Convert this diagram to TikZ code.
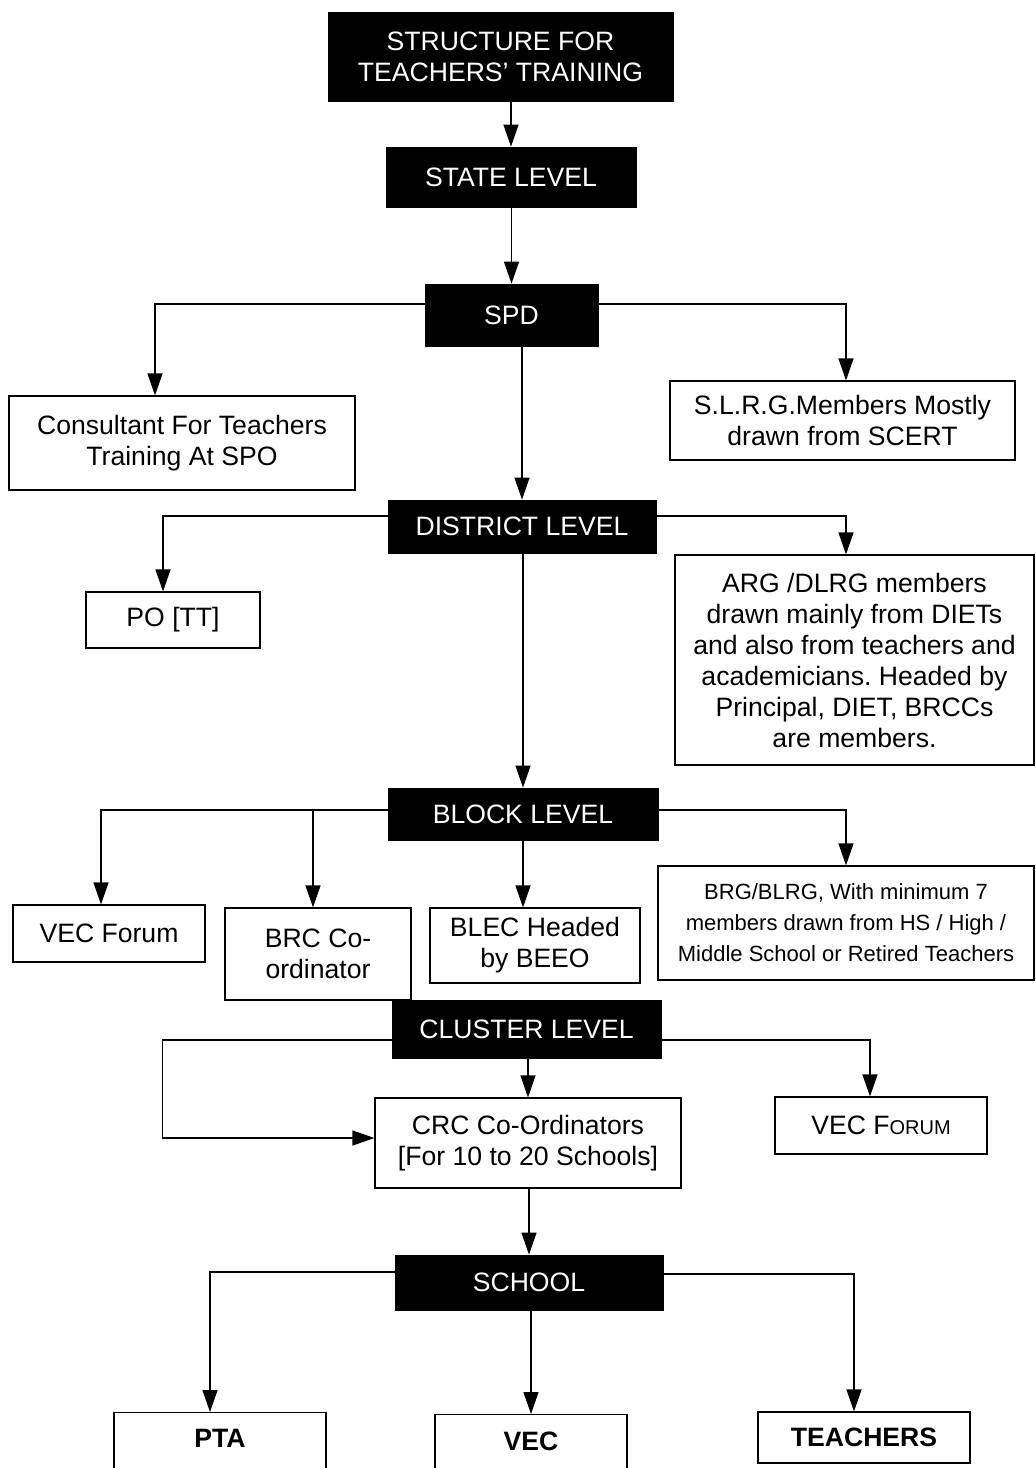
\documentclass[tikz,border=0pt]{standalone}
\usepackage{fontspec}
\setmainfont{Liberation Sans}
\usetikzlibrary{arrows.meta}
\frenchspacing

\tikzset{
	darkbox/.style={draw=black, fill=black, text=white, align=center, inner sep=0pt,
		font=\fontsize{13.3}{15.5}\selectfont},
	whitebox/.style={draw=black, line width=0.6pt, fill=white, align=center, inner sep=0pt,
		font=\fontsize{13.3}{15.5}\selectfont},
	arr/.style={-{Triangle[length=11pt,width=7.5pt]}, line width=0.6pt},
}

\begin{document}
\begin{tikzpicture}[x=0.5pt, y=-0.5pt] % one unit = one pixel of the page
		\useasboundingbox (0,0) rectangle (1035,1468);

		% Draw the level boxes (black)
		\node[darkbox, minimum width=172.5pt, minimum height=44.5pt] (title) at (500.5,56.5) {STRUCTURE FOR\\TEACHERS' TRAINING};
		\node[darkbox, minimum width=125pt, minimum height=30pt] (state) at (511,177) {STATE LEVEL};
		\node[darkbox, minimum width=86.5pt, minimum height=31pt] (spd) at (511.5,315) {SPD};
		\node[darkbox, minimum width=134pt, minimum height=26.5pt] (dist) at (522,526.5) {DISTRICT LEVEL};
		\node[darkbox, minimum width=135pt, minimum height=26pt] (block) at (523,814) {BLOCK LEVEL};

		% Draw the state and district boxes
		\node[whitebox, minimum width=173pt, minimum height=47pt] (cons) at (182,443) {Consultant For Teachers\\Training At SPO};
		\node[whitebox, minimum width=172.5pt, minimum height=39.5pt] (slrg) at (842.5,420.5) {S.L.R.G.Members Mostly\\drawn from SCERT};
		\node[whitebox, minimum width=87pt, minimum height=28pt] (po) at (173,620) {PO [TT]};
		\node[whitebox, minimum width=179.5pt, minimum height=105pt] (arg) at (854.5,660) {ARG /DLRG members\\drawn mainly from DIETs\\and also from teachers and\\academicians. Headed by\\Principal, DIET, BRCCs\\are members.};

		% Draw the block boxes
		\node[whitebox, minimum width=96pt, minimum height=28.5pt] (vecf) at (109,933.5) {VEC Forum};
		\node[whitebox, minimum width=93pt, minimum height=46pt] (brc) at (318,954) {BRC Co-\\ordinator};
		\node[whitebox, minimum width=105pt, minimum height=37.5pt] (blec) at (535,945.5) {BLEC Headed\\by BEEO};
		\node[whitebox, minimum width=188pt, minimum height=57pt, font=\fontsize{11}{15.5}\selectfont] (brg) at (846,923) {BRG/BLRG, With minimum 7\\members drawn from HS / High /\\Middle School or Retired Teachers};

		% Draw the cluster boxes
		\node[darkbox, minimum width=134.5pt, minimum height=29pt] (cluster) at (526.5,1029) {CLUSTER LEVEL};
		\node[whitebox, minimum width=153pt, minimum height=45pt] (crc) at (528,1143) {CRC Co-Ordinators\\{[}For 10 to 20 Schools]};
		\node[whitebox, minimum width=106pt, minimum height=28.5pt] (vecF) at (881,1125.5) {VEC F{\fontsize{10}{12}\selectfont ORUM}};

		% Draw the school boxes
		\node[darkbox, minimum width=134pt, minimum height=27.5pt] (school) at (529,1282.5) {SCHOOL};
		\node[whitebox, anchor=north, minimum width=106pt, text height=17.5pt, text depth=40pt, font=\fontsize{13.3}{15.5}\selectfont\bfseries] (pta) at (220,1412) {PTA};
		\node[whitebox, anchor=north, minimum width=96pt, text height=18pt, text depth=40pt, font=\fontsize{13.3}{15.5}\selectfont\bfseries] (vec) at (531,1414) {VEC};
		\node[whitebox, minimum width=106pt, minimum height=25.5pt, font=\fontsize{13.3}{15.5}\selectfont\bfseries] (teach) at (864,1437.5) {TEACHERS};

		% Draw the connectors
		\draw[arr] (state.north |- title.south) -- (state.north);
		\draw[arr] (spd.north |- state.south) -- (spd.north);
		\draw[arr] ([yshift=5.5pt]spd.west) -| ([xshift=-13.5pt]cons.north);
		\draw[arr] ([yshift=5.5pt]spd.east) -| ([xshift=1.75pt]slrg.north);
		\draw[arr] (dist.north |- spd.south) -- (dist.north);

		\draw[arr] ([yshift=5.25pt]dist.west) -| ([xshift=-5pt]po.north);
		\draw[arr] ([yshift=5.25pt]dist.east) -| ([xshift=-4.25pt]arg.north);
		\draw[arr] (block.north |- dist.south) -- (block.north);

		\draw[arr] ([yshift=2pt]block.west) -| ([xshift=-4pt]vecf.north);
		\draw[arr] ([yshift=2pt]block.west) -| ([xshift=-2.5pt]brc.north);
		\draw[arr] (block.south) -- (block.south |- blec.north);
		\draw[arr] ([yshift=2pt]block.east) -| (brg.north);

		\draw[arr] (crc.north |- cluster.south) -- (crc.north);
		\draw[arr] ([yshift=-5.5pt]cluster.west) -- ++(-229,0) |- ([yshift=2.5pt]crc.west);
		\draw[arr] ([yshift=-5.5pt]cluster.east) -| ([xshift=-5.5pt]vecF.north);
		\draw[arr] (school.north |- crc.south) -- (school.north);

		\draw[arr] ([yshift=5.25pt]school.west) -| ([xshift=-5pt]pta.north);
		\draw[arr] (vec.north |- school.south) -- (vec.north);
		\draw[arr] ([yshift=4.25pt]school.east) -| ([xshift=-5pt]teach.north);
	\end{tikzpicture}
\end{document}
